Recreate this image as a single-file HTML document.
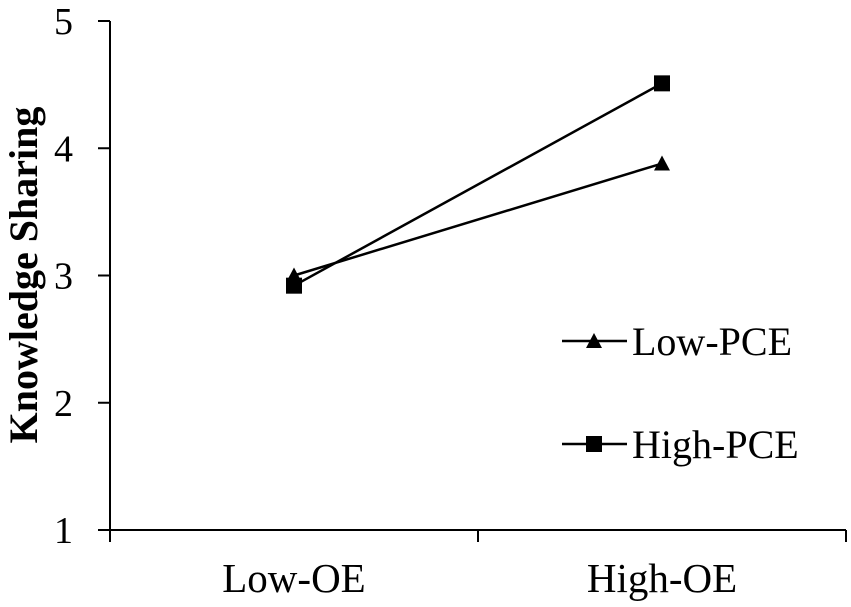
<!DOCTYPE html>
<html><head><meta charset="utf-8"><style>
body{margin:0;background:#fff}
svg{display:block;font-family:"Liberation Serif",serif}
</style></head><body>
<svg id="chart" width="851" height="607" viewBox="0 0 851 607"></svg>
<script>
const categories = ["Low-OE", "High-OE"];
const lowPCE = [3.0, 3.88];
const highPCE = [2.92, 4.51];
const yTicks = [1, 2, 3, 4, 5];
const seriesNames = ["Low-PCE", "High-PCE"];

const NS = "http://www.w3.org/2000/svg";
const svg = document.getElementById("chart");
const x0 = 110, x1 = 846, yTop = 21, yBot = 530;
const yScale = v => yBot - (v - 1) / 4 * (yBot - yTop);
const xScale = i => x0 + (i + 0.5) * (x1 - x0) / categories.length;
function mk(tag, attrs) { const e = document.createElementNS(NS, tag); for (const k in attrs) e.setAttribute(k, attrs[k]); svg.appendChild(e); return e; }

let e = mk("line", {x1: x0, y1: yTop, x2: x0, y2: yBot, stroke: "#000", "stroke-width": 2});


e = mk("line", {x1: x0 - 12, y1: yBot, x2: x1, y2: yBot, stroke: "#000", "stroke-width": 2});



yTicks.forEach(t => {
  const y = yScale(t);
  const l = mk("line", {x1: x0 - 12, y1: y, x2: x0, y2: y, stroke: "#000", "stroke-width": 2});
  
  
  const tx = mk("text", {x: 73, y: y + 13, "font-size": 38, "text-anchor": "end"});
  tx.textContent = t;
  
  
});
for (let i = 0; i <= categories.length; i++) {
  const x = x0 + i * (x1 - x0) / categories.length;
  const l = mk("line", {x1: x, y1: yBot, x2: x, y2: yBot + 12, stroke: "#000", "stroke-width": 2});
  
  
}
categories.forEach((c, i) => {
  const tx = mk("text", {x: xScale(i), y: 592, "font-size": 41, "text-anchor": "middle"});
  tx.textContent = c;
  
  
});
const yt = mk("text", {x: 0, y: 0, "font-size": 40, "font-weight": "bold", "text-anchor": "middle", transform: "translate(37,275) rotate(-90)"});
yt.textContent = "Knowledge Sharing";



function tri(x, y, name) {
  const p = mk("polygon", {points: `${x},${y-8} ${x-8},${y+7} ${x+8},${y+7}`, fill: "#000"});
  
  
}
function sq(x, y, name) {
  const r = mk("rect", {x: x - 8, y: y - 8, width: 16, height: 16, fill: "#000"});
  
  
}
[[lowPCE, tri, "low-pce"], [highPCE, sq, "high-pce"]].forEach(([vals, marker, nm]) => {
  const pl = mk("polyline", {points: vals.map((v, i) => xScale(i) + "," + yScale(v)).join(" "), fill: "none", stroke: "#000", "stroke-width": 2.5});
  
  
  vals.forEach((v, i) => marker(xScale(i), yScale(v), nm + '-point'));
});

seriesNames.forEach((n, i) => {
  const y = 341 + i * 103;
  const l = mk("line", {x1: 562, y1: y, x2: 627, y2: y, stroke: "#000", "stroke-width": 2.5});
  
  
  (i === 0 ? tri : sq)(594, y, 'legend-marker');
  const tx = mk("text", {x: 632, y: y + 14, "font-size": 40});
  tx.textContent = n;
  
  
});
</script>
</body></html>
